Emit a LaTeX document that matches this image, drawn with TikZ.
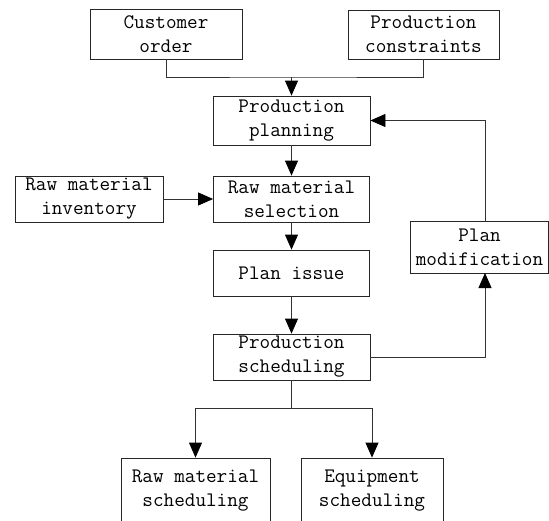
\documentclass[tikz,border=0pt]{standalone}
\usetikzlibrary{arrows.meta}
\begin{document}
\begin{tikzpicture}[x=1pt,y=-1pt,
  box/.style={draw=black!85,line width=0.8pt,rectangle,inner sep=0pt,align=center,
    font=\fontsize{20.6}{24}\selectfont\ttfamily},
  conn/.style={draw=black!80,line width=0.8pt},
  arr/.style={conn,-{Triangle[length=15pt,width=13pt,color=black]}}]
\useasboundingbox (0,0) rectangle (549,520);
\node[box,minimum width=152pt,minimum height=50pt] (cust) at (166,34) {Customer\\order};
\node[box,minimum width=151pt,minimum height=49pt] (cons) at (423.5,34.5) {Production\\constraints};
\node[box,minimum width=157pt,minimum height=49pt] (plan) at (291.5,120.5) {Production\\planning};
\node[box,minimum width=148pt,minimum height=46pt] (inv) at (89,199) {Raw material\\inventory};
\node[box,minimum width=156pt,minimum height=46pt] (sel) at (291.5,199) {Raw material\\selection};
\node[box,minimum width=156pt,minimum height=46pt] (issue) at (291.5,273) {Plan issue};
\node[box,minimum width=157pt,minimum height=46pt] (sched) at (291.5,357) {Production\\scheduling};
\node[box,minimum width=138pt,minimum height=52pt] (mod) at (479.5,247) {Plan\\modification};
\node[box,minimum width=149pt,minimum height=66pt] (rms) at (195.5,491) {Raw material\\scheduling};
\node[box,minimum width=142pt,minimum height=66pt] (eqs) at (372,491) {Equipment\\scheduling};
\coordinate (j1) at (291.5,77);
\coordinate (j2) at (291.5,408);
\coordinate (mtop) at (485,221);
\coordinate (mbot) at (485,273);
\draw[conn] (cust.south) |- (j1) -| (cons.south);
\draw[arr] (j1) -- (plan.north);
\draw[arr] (plan.south) -- (sel.north);
\draw[arr] (inv.east) -- (sel.west);
\draw[arr] (sel.south) -- (issue.north);
\draw[arr] (issue.south) -- (sched.north);
\draw[arr] (sched.east) -| (mbot);
\draw[arr] (mtop) |- (plan.east);
\draw[conn] (sched.south) -- (j2);
\draw[arr] (j2) -| (rms.north);
\draw[arr] (j2) -| (eqs.north);
\end{tikzpicture}
\end{document}
